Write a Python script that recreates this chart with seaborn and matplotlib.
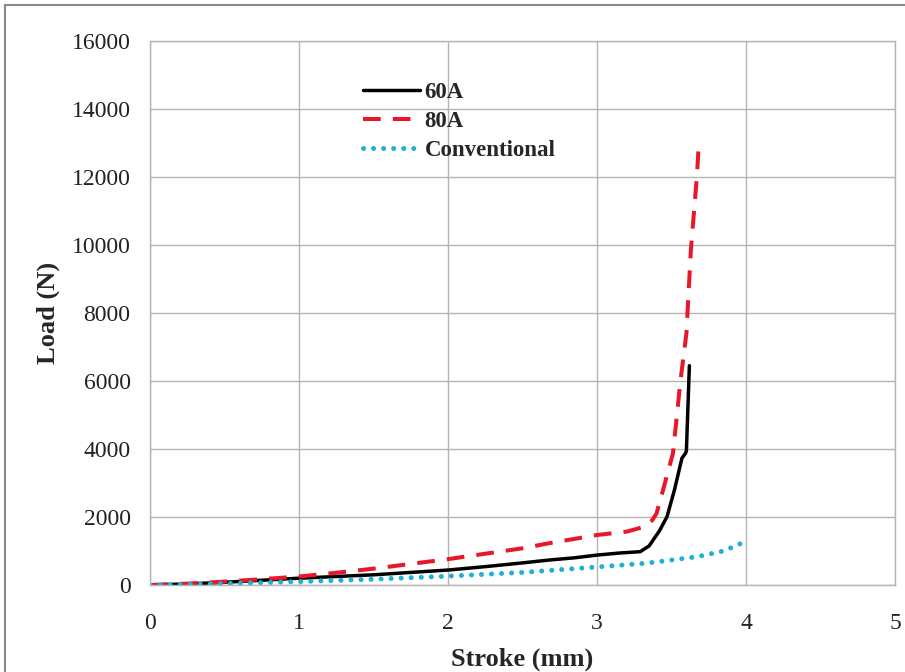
import matplotlib
matplotlib.use("Agg")
import matplotlib.pyplot as plt
import seaborn as sns
import pandas as pd
from matplotlib.patches import Rectangle

# Load-stroke curves
stroke_60a = [0, 0.25, 0.5, 0.75, 1.0, 1.25, 1.5, 1.75, 2.0, 2.25, 2.5, 2.68,
              2.85, 3.0, 3.15, 3.29, 3.35, 3.42, 3.47, 3.52, 3.57, 3.595, 3.60, 3.62]
load_60a = [0, 30, 80, 140, 200, 250, 300, 370, 440, 540, 650, 735,
            800, 880, 940, 980, 1150, 1600, 2010, 2800, 3730, 3880, 3950, 6450]

stroke_80a = [0, 0.25, 0.5, 0.75, 1.0, 1.25, 1.5, 1.75, 2.0, 2.25, 2.5, 2.68,
              3.0, 3.2, 3.32, 3.37, 3.40, 3.45, 3.51, 3.56, 3.60, 3.63, 3.67, 3.685]
load_80a = [0, 40, 100, 170, 250, 360, 480, 620, 760, 920, 1080, 1230,
            1470, 1570, 1715, 1900, 2110, 2900, 3880, 6000, 7400, 9850, 12000, 13100]

stroke_conv = [0, 0.5, 1.0, 1.5, 2.0, 2.5, 3.0, 3.33, 3.67, 3.85, 3.97]
load_conv = [0, 40, 100, 170, 260, 370, 530, 640, 830, 1000, 1230]

series_names = ["60A", "80A", "Conventional"]
x_ticks = [0, 1, 2, 3, 4, 5]
y_ticks = [0, 2000, 4000, 6000, 8000, 10000, 12000, 14000, 16000]

sns.set_style("whitegrid")
plt.rcParams["font.family"] = ["Liberation Serif", "DejaVu Serif"]

fig = plt.figure(figsize=(9.05, 6.72), dpi=100)
ax = fig.add_axes([150 / 905, 87 / 672, 745 / 905, 544 / 672])

styles = {
    "60A": dict(color="black", lw=2.5, ls="-"),
    "80A": dict(color="#e8182a", lw=2.9, ls=(0, (4.4, 3.0))),
    "Conventional": dict(color="#1fb0d2", lw=3.6, ls=(0, (0.01, 2.0))),
}

datasets = {
    "60A": (stroke_60a, load_60a),
    "80A": (stroke_80a, load_80a),
    "Conventional": (stroke_conv, load_conv),
}

for name in series_names:
    xs, ys = datasets[name]
    df = pd.DataFrame({"Stroke": xs, "Load": ys})
    st = styles[name]
    sns.lineplot(data=df, x="Stroke", y="Load", ax=ax, label=name,
                 color=st["color"], linewidth=st["lw"], linestyle=st["ls"],
                 sort=False, estimator=None,
                 dash_capstyle="round" if name == "Conventional" else "butt")

ax.set_xlim(0, 5)
ax.set_ylim(0, 16000)
ax.set_xticks(x_ticks)
ax.set_yticks(y_ticks)
ax.set_xticklabels([str(v) for v in x_ticks])
ax.set_yticklabels([str(v) for v in y_ticks])

grid_col = "#b4b4b4"
ax.grid(True, color=grid_col, linewidth=1.0)
for side in ["left", "bottom", "top", "right"]:
    ax.spines[side].set_color(grid_col)
    ax.spines[side].set_linewidth(1.0)
ax.tick_params(axis="both", which="major", length=6, width=1.0, color=grid_col,
               direction="out", labelsize=17, labelcolor="#222222")
ax.tick_params(axis="x", pad=14)
ax.tick_params(axis="y", pad=8)

ax.set_xlabel("Stroke (mm)", fontsize=19, fontweight="bold", labelpad=10)
ax.set_ylabel("Load (N)", fontsize=19, fontweight="bold", labelpad=8)

leg = ax.legend(loc="upper left", bbox_to_anchor=(0.27, 0.945), frameon=False,
                fontsize=16.5, handlelength=2.5, handletextpad=0.2,
                labelspacing=0.33, borderpad=0)
for t in leg.get_texts():
    t.set_fontweight("bold")

# thin frame around the figure
fig.patches.append(Rectangle((5 / 905, -0.02), 1.1, 1 - 5 / 672 + 0.02,
                             transform=fig.transFigure, fill=False,
                             edgecolor="#8a8a8a", linewidth=1.5))

fig.savefig("out.png", dpi=100)
